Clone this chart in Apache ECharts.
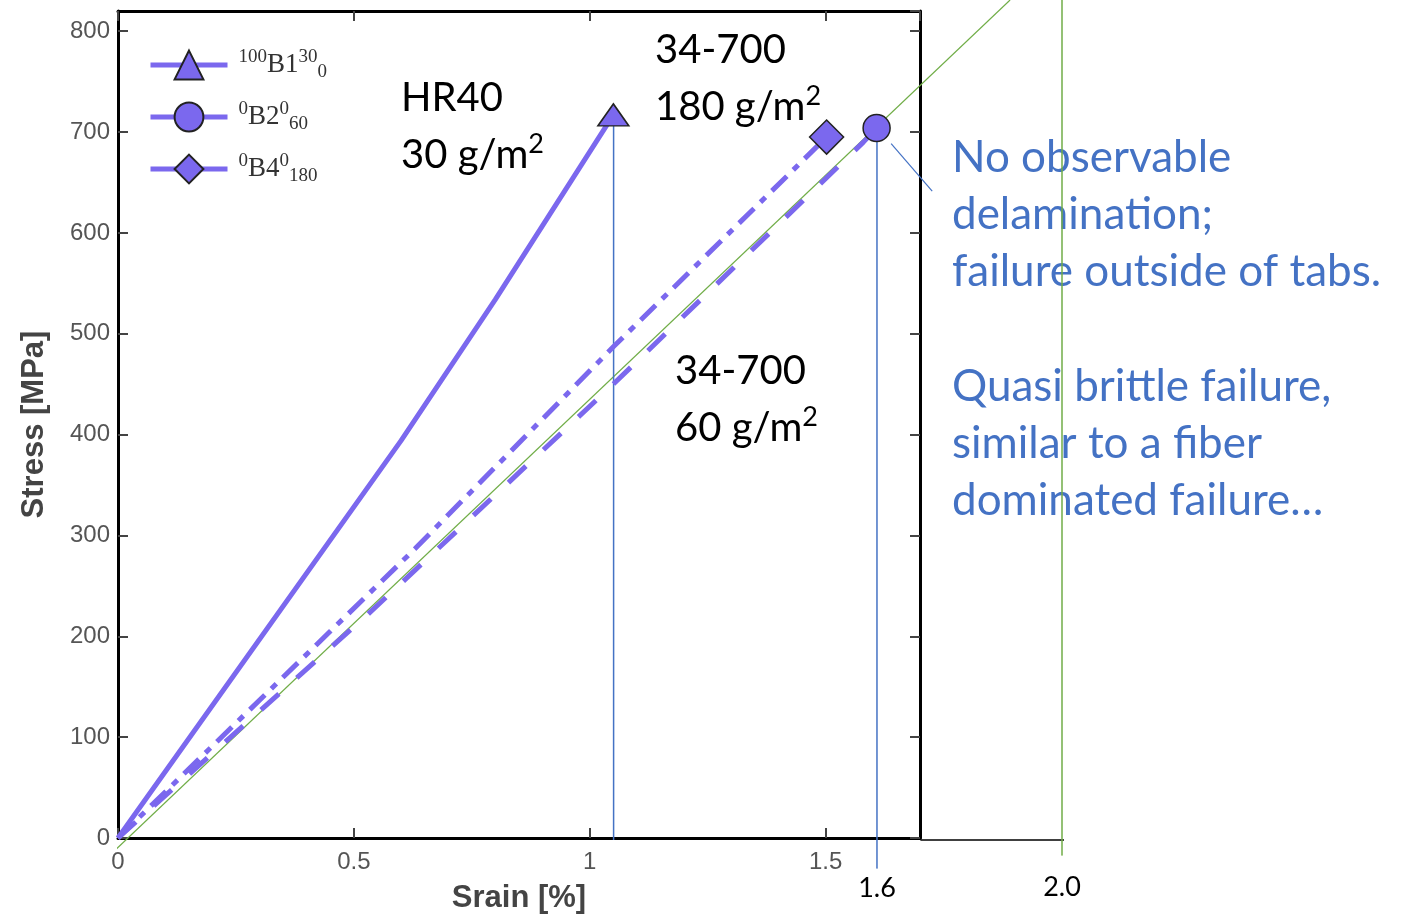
<!DOCTYPE html>
<html>
<head>
<meta charset="utf-8">
<script src="https://cdn.jsdelivr.net/npm/echarts@6/dist/echarts.min.js"></script>
<style>
  html, body { margin: 0; padding: 0; background: #fff; }
  #chart { width: 1406px; height: 919px; }
</style>
</head>
<body>
<div id="chart"></div>
<script>
// strain [%] / stress [MPa]
var seriesNames = ['100B1_0^30', '0B2_60^0', '0B4_180^0'];
var hr40Curve = [[0, 0], [0.6, 394], [0.8, 534], [1.05, 717]];
var b2Curve = [[0, 0], [0.53, 222], [0.69, 292], [1.05, 450], [1.58, 690], [1.608, 704]];
var b4Curve = [[0, 0], [0.63, 287], [1.05, 487], [1.502, 695]];

// guide lines drawn over the chart
var greenSlope = [[-0.006, -10], [1.89, 831]];
var greenLimit = [[2.0, 831], [2.0, -15]];
var baseExtension = [[1.7, 0], [2.005, 0]];
var failHR40 = [[1.05, 717], [1.05, 0]];
var fail16 = [[1.608, 704], [1.608, -28]];
var pointer = [[1.638, 689], [1.725, 642]];

var xTicks = [0, 0.5, 1, 1.5];
var extraXLabels = ['1.6', '2.0'];

document.addEventListener('DOMContentLoaded', function () {
  var chart = echarts.init(document.getElementById('chart'));

  var purple = '#7B68EE';
  var blue = '#4472C4';
  var green = '#70AD47';

  function endOnly(data, symbol) {
    return data.map(function (p, i) {
      if (i === data.length - 1) return { value: p, symbol: symbol };
      return { value: p, symbol: 'none' };
    });
  }

  var legendText = {
    '100B1_0^30': '{pre|100}{main|B1}{sup|30}{sub|0}',
    '0B2_60^0': '{pre|0}{main|B2}{sup|0}{sub|60}',
    '0B4_180^0': '{pre|0}{main|B4}{sup|0}{sub|180}'
  };

  function guide(data, color, width) {
    return {
      type: 'line', data: data, symbol: 'none', clip: false, silent: true,
      xAxisIndex: 2, yAxisIndex: 2,
      lineStyle: { color: color, width: width }, z: 1
    };
  }

  // line with a label under its last point
  function labelledGuide(data, color, width, text, dist) {
    return {
      type: 'line', clip: false, silent: true, z: 1,
      xAxisIndex: 2, yAxisIndex: 2,
      lineStyle: { color: color, width: width },
      itemStyle: { color: color },
      data: [
        { value: data[0], symbol: 'none' },
        {
          value: data[1], symbol: 'circle', symbolSize: 1,
          label: { show: true, position: 'bottom', distance: dist, formatter: text, fontFamily: 'Lato', fontSize: 27, color: '#000' }
        }
      ]
    };
  }

  var sup = { fontFamily: 'Liberation Serif', fontSize: 19, color: '#333', lineHeight: 34 };
  var textRich = {
    n: { fontFamily: 'Lato', fontSize: 40, color: '#000', lineHeight: 57 },
    s: { fontFamily: 'Lato', fontSize: 27, color: '#000', lineHeight: 57, verticalAlign: 'top', padding: [4, 0, 0, 0] }
  };

  var frameAxis = { color: '#000', width: 3 };
  var frameTick = { inside: true, length: 10, lineStyle: { color: '#444', width: 2 } };

  var option = {
    animation: false,
    grid: [
      { left: 118, right: 486, top: 11, bottom: 79 },
      { left: 118, right: 344, top: 1, bottom: 79 }
    ],
    legend: {
      left: 148, top: 48, orient: 'vertical', padding: 0,
      itemWidth: 77, itemHeight: 36, itemGap: 18,
      data: seriesNames,
      lineStyle: { width: 5, type: 'solid' },
      formatter: function (name) { return legendText[name]; },
      textStyle: {
        padding: [0, 0, 0, 6],
        rich: {
          pre: Object.assign({ verticalAlign: 'top' }, sup),
          main: { fontFamily: 'Liberation Serif', fontSize: 27, color: '#333', lineHeight: 34 },
          sup: Object.assign({ verticalAlign: 'top' }, sup),
          sub: Object.assign({ verticalAlign: 'bottom' }, sup)
        }
      }
    },
    xAxis: [{
      type: 'value', gridIndex: 0, min: 0, max: 1.7, interval: 0.5, position: 'bottom',
      name: 'Srain [%]', nameLocation: 'middle', nameGap: 45,
      nameTextStyle: { fontFamily: 'Liberation Sans', fontWeight: 'bold', fontSize: 31, color: '#444' },
      axisLine: { onZero: false, lineStyle: frameAxis },
      axisTick: frameTick,
      axisLabel: {
        showMaxLabel: false, margin: 12, fontFamily: 'Liberation Sans', fontSize: 24, color: '#555',
        formatter: function (v) { return xTicks.indexOf(v) >= 0 ? String(v) : ''; }
      },
      splitLine: { show: false }
    }, {
      type: 'value', gridIndex: 0, min: 0, max: 1.7, interval: 0.5, position: 'top',
      axisLine: { onZero: false, lineStyle: frameAxis },
      axisTick: frameTick,
      axisLabel: { show: false }, splitLine: { show: false }
    }, {
      type: 'value', gridIndex: 1, min: 0, max: 2.0, show: false
    }],
    yAxis: [{
      type: 'value', gridIndex: 0, min: 0, max: 820, interval: 100, position: 'left',
      name: 'Stress [MPa]', nameLocation: 'middle', nameGap: 68,
      nameTextStyle: { fontFamily: 'Liberation Sans', fontWeight: 'bold', fontSize: 31, color: '#444' },
      axisLine: { show: true, onZero: false, lineStyle: frameAxis },
      axisTick: Object.assign({ show: true }, frameTick),
      axisLabel: { showMaxLabel: false, margin: 8, fontFamily: 'Liberation Sans', fontSize: 24, color: '#555' },
      splitLine: { show: false }
    }, {
      type: 'value', gridIndex: 0, min: 0, max: 820, interval: 100, position: 'right',
      axisLine: { show: true, onZero: false, lineStyle: frameAxis },
      axisTick: Object.assign({ show: true }, frameTick),
      axisLabel: { show: false }, splitLine: { show: false }
    }, {
      type: 'value', gridIndex: 1, min: 0, max: 830, show: false
    }],
    graphic: [
      { type: 'text', left: 401, top: 78, style: { text: '{n|HR40}\n{n|30 g/m}{s|2}', rich: textRich } },
      { type: 'text', left: 655, top: 30, style: { text: '{n|34-700}\n{n|180 g/m}{s|2}', rich: textRich } },
      { type: 'text', left: 675, top: 351, style: { text: '{n|34-700}\n{n|60 g/m}{s|2}', rich: textRich } },
      { type: 'text', left: 952, top: 129, style: { text: 'No observable\ndelamination;\nfailure outside of tabs.', font: '44px Lato', fill: blue, lineHeight: 57 } },
      { type: 'text', left: 952, top: 358, style: { text: 'Quasi brittle failure,\nsimilar to a fiber\ndominated failure…', font: '44px Lato', fill: blue, lineHeight: 57 } }
    ],
    series: [
      guide(greenSlope, green, 1.2),
      guide(baseExtension, '#000', 1.5),
      labelledGuide(greenLimit, green, 1.5, extraXLabels[1], 18),
      guide(failHR40, blue, 1.5),
      labelledGuide(fail16, blue, 1.5, extraXLabels[0], 6),
      guide(pointer, blue, 1.2),
      {
        name: seriesNames[0], type: 'line', symbol: 'triangle', symbolSize: [31, 22],
        data: endOnly(hr40Curve, 'triangle'), z: 3,
        lineStyle: { color: purple, width: 5 },
        itemStyle: { color: purple, borderColor: '#222', borderWidth: 1.5 }
      },
      {
        name: seriesNames[1], type: 'line', symbol: 'circle', symbolSize: 27,
        data: endOnly(b2Curve, 'circle'), z: 3,
        lineStyle: { color: purple, width: 5, type: [24, 24] },
        itemStyle: { color: purple, borderColor: '#222', borderWidth: 1.5 }
      },
      {
        name: seriesNames[2], type: 'line', symbol: 'diamond', symbolSize: 34,
        data: endOnly(b4Curve, 'diamond'), z: 3,
        lineStyle: { color: purple, width: 5, type: [21, 9, 7, 9] },
        itemStyle: { color: purple, borderColor: '#222', borderWidth: 1.5 }
      }
    ]
  };

  chart.setOption(option);
});
</script>
</body>
</html>
